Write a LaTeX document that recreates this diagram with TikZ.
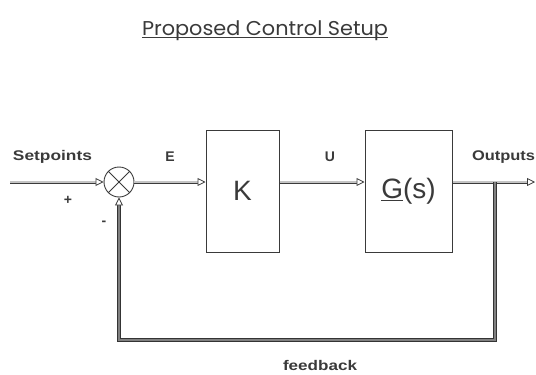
\documentclass[tikz,border=0pt]{standalone}
\usepackage{fontspec}
\setmainfont{Liberation Sans}
\newfontfamily\titlefont{Poppins}
\usetikzlibrary{arrows.meta}
\definecolor{ink}{HTML}{3A3A3A}
\definecolor{pipein}{HTML}{C4C4C4}
\begin{document}
\begin{tikzpicture}[x=1pt,y=-1pt,
  pipe/.style={draw=ink, line width=0.9pt, double=pipein, double distance=1.2pt},
  fbpipe/.style={draw=ink!90!black, line width=1.3pt, double=gray, double distance=1.1pt},
  tip/.style={-{Triangle[open,length=8pt,width=8pt,line width=0.8pt,fill=white]}},
  lab/.style={text=ink, font=\bfseries\fontsize{14}{14}\selectfont, inner sep=0pt},
  blk/.style={draw=ink, line width=1pt, text=ink, inner sep=0pt},
  big/.style={font=\fontsize{28}{28}\selectfont},
]
\useasboundingbox (0,0) rectangle (536,375);

% title
\node[text=ink, inner sep=0pt, anchor=base] (title) at (265,35)
  {\titlefont\fontsize{20}{20}\selectfont\resizebox{246pt}{\height}{Proposed Control Setup}};
\draw[ink, line width=0.8pt] ([yshift=-2.5pt]title.base west) -- ([yshift=-2.5pt]title.base east);

% blocks
\node[draw=ink, circle, line width=0.9pt, minimum size=30pt, inner sep=0pt] (sum) at (119,182) {};
\draw[ink, line width=0.8pt] (sum.45) -- (sum.225) (sum.135) -- (sum.315);
\node[blk, big, minimum width=73pt, minimum height=122pt] (K) at (242.5,191) {K};
\node[blk, big, minimum width=87pt, minimum height=122pt] (G) at (408.5,191) {\underline{G}(s)};

\coordinate (in) at (10,182);
\coordinate (out) at (535,182);
\coordinate (br) at (495,182);
\coordinate (fb) at (495,340);

% connectors
\draw[pipe,tip] (in) -- (sum.west);
\draw[pipe,tip] (sum.east) -- (sum.east -| K.west);
\draw[pipe,tip] (K.east |- sum.east) -- (G.west |- sum.east);
\draw[pipe,tip] (G.east |- sum.east) -- (out);
\draw[fbpipe, tip] (br) -- (fb) -| (sum.south);

% labels
\node[lab] (sp) at (52.5,157) {\resizebox{79pt}{\height}{Setpoints}};
\node[lab] (e) at (170,157) {E};
\node[lab] (u) at (330,157) {U};
\node[lab] (op) at (503.5,157) {\resizebox{63pt}{\height}{Outputs}};
\node[lab] (fbl) at (320,365) {\resizebox{74pt}{\height}{feedback}};
\node[lab] (plus) at (68,200) {+};
\node[lab] (minus) at (104,223) {-};
\end{tikzpicture}
\end{document}
